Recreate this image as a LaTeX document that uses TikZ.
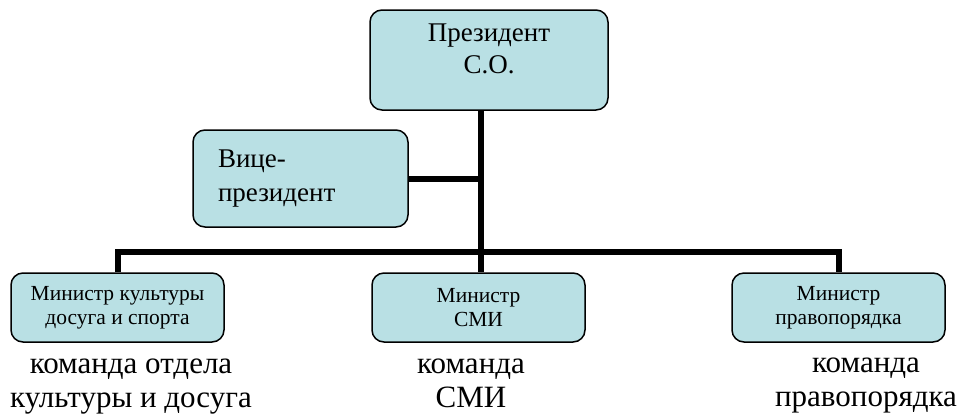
\documentclass[tikz,border=0pt]{standalone}
\usepackage{fontspec}
\setmainfont{Liberation Serif}
\usetikzlibrary{backgrounds}
\definecolor{boxfill}{RGB}{185,224,228}

\begin{document}
\begin{tikzpicture}[x=1pt,y=-1pt,
box/.style={draw, line width=1.5pt, rounded corners=12pt, fill=boxfill, align=center},
chief/.style={box, font=\fontsize{27}{32}\selectfont, minimum width=238pt, minimum height=100pt, text depth=22pt},
deputy/.style={box, font=\fontsize{27}{34}\selectfont, align=left, text width=165pt, inner xsep=25pt, minimum height=97pt},
minister/.style={box, font=\fontsize{21.5}{24}\selectfont, minimum width=213pt, minimum height=69pt},
team/.style={font=\fontsize{31}{34}\selectfont, align=center, inner sep=0pt},
link/.style={line width=6pt}]
\useasboundingbox (0,0) rectangle (960,416);
\node[chief] (pres) at (489,60) {Президент\\С.О.};
\node[deputy] (vice) at (300.5,178.5) {Вице-\\президент};
\node[minister] (min1) at (117.5,307.5) {Министр культуры\\досуга и спорта};
\node[minister] (min2) at (478.5,307.5) {Министр\\СМИ};
\node[minister] (min3) at (838.5,307.5) {Министр\\правопорядка};
\coordinate (bus) at (481,252);
\node[team] (team1) at (131,387) {команда отдела\\культуры и досуга};
\node[team] (team2) at (471,383.5) {команда\\СМИ};
\node[team] (team3) at (866,385) {команда\\правопорядка};
\begin{scope}[on background layer]
\draw[link] (pres.south -| bus) -- (bus);
\draw[link] (vice.east) -- (vice.east -| bus);
\draw[link] (min1.north) |- (bus) -| (min3.north);
\draw[link] (bus) -- (bus |- min2.north);
\end{scope}
\end{tikzpicture}
\end{document}
